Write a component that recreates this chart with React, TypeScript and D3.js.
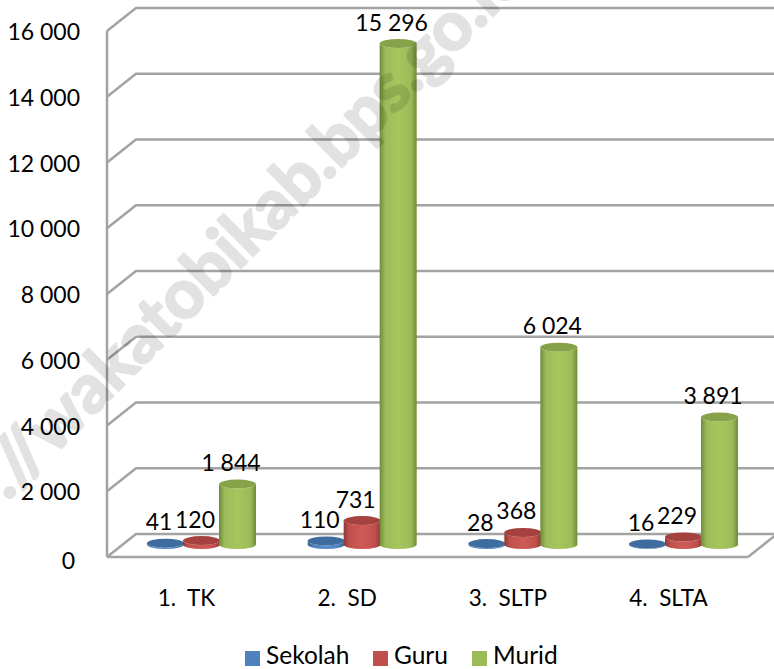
import React from "react";
import * as d3 from "d3";

const categories = ["1.  TK", "2.  SD", "3.  SLTP", "4.  SLTA"];
const sekolah = [41, 110, 28, 16];
const guru = [120, 731, 368, 229];
const murid = [1844, 15296, 6024, 3891];
const seriesNames = ["Sekolah", "Guru", "Murid"];
const seriesColors = ["#4f81bd", "#c0504d", "#9bbb59"];
const darkColors = ["#3f6c9f", "#a5423f", "#86a349"];
const sideColors = ["#37608f", "#8f3835", "#6f8c36"];
const midColors = ["#5a8ccb", "#cf5a56", "#a5c75d"];
const tickValues = [0, 2000, 4000, 6000, 8000, 10000, 12000, 14000, 16000];

const fmt = (v: number) => String(v).replace(/\B(?=(\d{3})+$)/g, " ");
const FONT = "Lato, Carlito, sans-serif";

const wallY = d3.scaleLinear().domain([0, 16000]).range([557, 31]);
const barY = d3.scaleLinear().domain([0, 16000]).range([544.5, 20.5]);
const groupX = d3.scalePoint<string>().domain(categories).range([201.5, 683.5]);
const seriesOffset = d3.scaleOrdinal<string, number>().domain(seriesNames).range([-36, 0, 36]);
const DX = 29;
const DY = 23;
const FRONT_L = 107;
const FRONT_R = 748;
const RX = 18.5;
const RY = 4.5;

function Cyl({ cx, top, bottom, s }: { cx: number; top: number; bottom: number; s: number }) {
  const d = `M${cx - RX},${top} A${RX},${RY} 0 0 0 ${cx + RX},${top} L${cx + RX},${bottom} A${RX},${RY} 0 0 1 ${cx - RX},${bottom} Z`;
  return (
    <g>
      <path d={d} fill={`url(#cyl${s})`} />
      <ellipse cx={cx} cy={top} rx={RX} ry={RY} fill={darkColors[s]} />
    </g>
  );
}

export default function App() {
  const series = [sekolah, guru, murid];
  return (
    <svg width={774} height={669} style={{ position: "absolute", left: 0, top: 0, background: "#fff" }}>
      <defs>
        {seriesColors.map((c, i) => (
          <linearGradient key={i} id={`cyl${i}`} x1="0" x2="1" y1="0" y2="0">
            <stop offset="0" stopColor={sideColors[i]} />
            <stop offset="0.15" stopColor={c} />
            <stop offset="0.5" stopColor={midColors[i]} />
            <stop offset="0.85" stopColor={c} />
            <stop offset="1" stopColor={sideColors[i]} />
          </linearGradient>
        ))}
      </defs>

      {/* walls and floor */}
      <g stroke="#a3a3a3" strokeWidth={2.5} fill="none">
        <line x1={FRONT_L} x2={FRONT_L} y1={wallY(0)} y2={wallY(16000)} />
        {tickValues.map((t) => (
          <path key={t} d={`M${FRONT_L},${wallY(t)} L${FRONT_L + DX},${wallY(t) - DY} L774,${wallY(t) - DY}`} />
        ))}
        <line x1={FRONT_L} x2={FRONT_R} y1={wallY(0)} y2={wallY(0)} />
        <line x1={FRONT_R} x2={FRONT_R + DX} y1={wallY(0)} y2={wallY(0) - DY} />
      </g>

      {/* cylinders */}
      {seriesNames.map((n, s) =>
        categories.map((c, i) => {
          const cx = (groupX(c) as number) + seriesOffset(n);
          return <Cyl key={n + c} cx={cx} top={barY(series[s][i])} bottom={barY(0)} s={s} />;
        })
      )}

      {/* axis tick labels */}
      {tickValues.map((t) => (
        <text key={t} x={t === 0 ? 75 : 80} y={wallY(t) + (t === 0 ? 12 : 9)} textAnchor="end" fontFamily={FONT} fontSize={23} fill="#000">
          {fmt(t)}
        </text>
      ))}

      {/* data labels */}
      {seriesNames.map((n, s) =>
        categories.map((c, i) => {
          const cx = (groupX(c) as number) + seriesOffset(n) - 6.5;
          return (
            <text key={n + c} x={cx} y={barY(series[s][i]) - 13} textAnchor="middle" fontFamily={FONT} fontSize={23} fill="#000">
              {fmt(series[s][i])}
            </text>
          );
        })
      )}

      {/* category labels */}
      {categories.map((c) => (
        <text
          key={c}
          x={(groupX(c) as number) - 15}
          y={606}
          textAnchor="middle"
          fontFamily={FONT}
          fontSize={22.5}
          fill="#000"
          style={{ whiteSpace: "pre" }}
        >
          {c}
        </text>
      ))}

      {/* legend */}
      {seriesNames.map((n, i) => {
        const xs = [245, 373, 472];
        return (
          <g key={n}>
            <rect x={xs[i]} y={651} width={15} height={15} fill={seriesColors[i]} />
            <text x={xs[i] + 21} y={663.5} fontFamily={FONT} fontSize={24.5} fill="#000">
              {n}
            </text>
          </g>
        );
      })}

      {/* watermark */}
      <g opacity={0.11}>
        <text
          transform="translate(-81,590) rotate(-45)"
          fontFamily={FONT}
          fontWeight="bold"
          fontSize={68}
          fill="#000"
          stroke="#000"
          strokeWidth={2.5}
          strokeLinejoin="round"
        >
          http://wakatobikab.bps.go.id
        </text>
      </g>
    </svg>
  );
}
